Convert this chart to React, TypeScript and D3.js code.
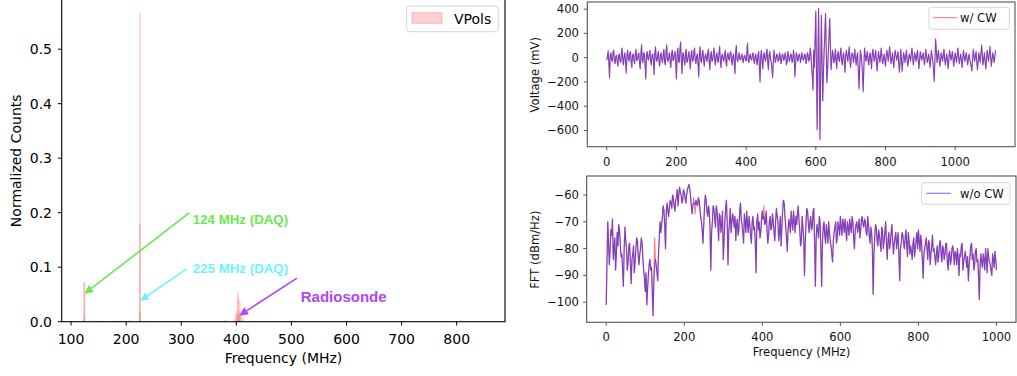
import React from "react";
import * as d3 from "d3";

// ---------------- Left: histogram of CW peak frequencies ----------------
const histBinCenters = [124, 137, 146, 160, 176, 190, 205, 225, 246, 380, 396, 400, 403, 406, 409, 413, 780, 808];
const vpolHistA = [0.072, 0.004, 0.002, 0.002, 0.002, 0.002, 0.003, 0.567, 0.002, 0.003, 0.004, 0.02, 0.055, 0.04, 0.014, 0.005, 0.002, 0.003];
const vpolHistB = [0.072, 0, 0, 0, 0, 0, 0, 0.18, 0, 0, 0, 0.012, 0.045, 0.02, 0.006, 0, 0, 0];
const vpolHistC = [0.012, 0, 0, 0, 0, 0, 0, 0.018, 0, 0, 0, 0.006, 0.016, 0.01, 0, 0, 0, 0];
const histBinWidth = 3;
const histXTicks = [100, 200, 300, 400, 500, 600, 700, 800];
const histYTicks = [0, 0.1, 0.2, 0.3, 0.4, 0.5];

const annotationLabels = ["124 MHz (DAQ)", "225 MHz (DAQ)", "Radiosonde"];
const annotationTips: [number, number][] = [[124, 0.051], [225, 0.038], [405, 0.011]];
const annotationTails: [number, number][] = [[315, 0.2], [310, 0.097], [510, 0.08]];
const annotationTextPos: [number, number][] = [[321, 0.187], [321, 0.098], [517, 0.047]];

// ---------------- Right top: voltage waveform ----------------
// samples at t = 0, 4, 8, ... (main) and t = 2, 6, 10, ... (mid)
const voltageStep = 4;
const voltageWithoutCW = [
  -20, 50, -160, 40, -30, 60, -50, 20, -70, 30, -40, 80, -60, 40, -120, 60, -30, 50, -80, 30,
  -50, 70, -20, 40, -90, 100, -40, 30, -170, 50, -20, 60, -60, 30, -140, 90, -30, 50, -70, 40,
  -40, 70, -60, 100, -30, 40, -80, 60, -20, 50, -170, 80, -40, 125, -130, 40, -60, 70, -30, 50,
  -90, 60, -20, 80, -50, 30, -150, 90, -40, 60, -70, 30, -30, 70, -100, 50, -20, 80, -60, 40,
  -40, 90, -80, 30, -30, 60, -70, 40, -20, 50, -60, 30, -130, 100, -30, 40, -20, 30, -40, 20,
  -30, 115, -40, 30, -20, 40, -50, 30, -60, 50, -195, 60, -90, 40, -30, 70, -100, 50, -30, -160,
  60, -40, 30, -30, 40, -50, 30, -20, 40, -60, 50, -30, 30, -40, 60, -150, 40, -30, 30, -40,
  40, -20, 30, -50, 40, -30, 80, -70, -260, -80, 377, -587, 405, -668, 350, -356, 60, 364, -206, 40,
  323, -100, 60, -40, 70, -90, 50, -30, 80, -60, 40, -120, 60, -30, 90, -80, 40, -40, 70, -60,
  40, -250, 60, -40, -275, 80, -30, 50, -60, 40, -90, 70, -30, 60, -110, 50, -40, 80, -50, 30,
  -70, 60, -30, 90, -50, 40, -80, 60, -20, 50, -115, 70, -110, 40, -40, 60, -70, 30, -30, 80,
  -60, 40, -30, 60, -90, 50, -20, 40, -60, 70, -40, 30, -80, 60, -30, -190, 150, -40, 60, -70,
  40, -30, 70, -60, 30, -90, 60, -20, 50, -70, 40, -40, 80, -50, 30, -80, 60, -30, 40, -60,
  30, -40, -110, 70, -30, 50, -100, 40, -40, 100, -60, 40, -90, 60, -30, 90, -70, 40, -40, 60,
];
const voltageWithoutCWMid = [
  10, -40, 20, -20, 40, -30, 10, -30, 20, -20, 30, -20, 10, -40, 20, -10, 30, -30, 20, -20,
  30, -20, 20, -40, 30, -20, 40, -50, 20, -10, 30, -30, 20, -30, 40, -20, 20, -30, 20, -10,
  20, -30, 40, -20, 10, -30, 30, -20, 30, -40, 20, -30, 60, -20, 30, -20, 30, -40, 20, -20,
  20, -30, 40, -20, 10, -50, 30, -20, 30, -20, 10, -10, 40, -30, 20, -30, 30, -20, 10, -20,
  30, -20, 10, -10, 20, -30, 20, -10, 30, -20, 10, -40, 50, -20, 10, -10, 10, -20, 10, -10,
  40, -20, 10, -10, 20, -20, 10, -30, 20, -60, 10, -30, 10, -10, 30, -30, 20, -10, -90, -40,
  10, -10, 20, -20, 10, -20, 20, -10, 10, -30, 20, -10, 20, -20, 10, -50, 20, -10, 20, -10,
  10, -10, 20, -20, 20, -10, 20, -150, 60, 150, -100, -50, -120, -150, -10, -130, 200, 80, -100, 180,
  100, -20, 20, -20, -10, 20, -10, 30, -20, 10, -40, 20, 10, 30, -20, 10, 20, 10, -20, 10,
  -100, -90, 20, -120, -80, 20, 10, -20, 10, -20, 30, 10, 20, -30, -20, 10, 20, -10, -10, -20,
  10, 20, 30, 10, -10, -20, 10, 20, 10, -40, -20, -20, -30, 10, 10, -10, -20, 10, 30, 10,
  -10, 10, 20, -20, -20, 10, 10, -10, 10, 10, -10, -20, -10, 10, -100, -20, 60, 10, -10, -20,
  10, 20, -10, -10, -30, -10, 20, 10, -10, -10, 0, 20, 10, -10, -20, -10, 10, 10, -10, -10,
  -10, -70, -20, 20, 10, -30, -30, 0, 30, 20, -10, -30, -10, 10, 30, 10, -10, 0, 10,
];
// samples where the trace with CW differs from the filtered one: [time, mV]
const voltageWithCWDiffs: [number, number][] = [
  [4, 62], [8, -172], [56, -132], [100, 110], [112, -180], [172, 110], [200, -182], [212, 135],
  [264, -162], [324, 98], [404, 124], [440, -205], [476, -170], [540, -160], [592, -272], [600, 390],
  [604, -600], [612, -680], [724, -262], [736, -285], [840, -125], [848, -118], [940, -198],
  [944, 158], [1076, 108], [1100, 96],
];
const voltXTicks = [0, 200, 400, 600, 800, 1000];
const voltYTicks = [-600, -400, -200, 0, 200, 400];

// ---------------- Right bottom: spectrum ----------------
// bins at f = 0, 4, 8, ... MHz (main) and f = 2, 6, 10, ... MHz (mid)
const fftStep = 4;
const fftWithoutCW = [
  -101, -70, -86, -73, -69, -80, -88, -74, -71, -78,
  -82, -94, -72, -80, -85, -78, -93, -82, -89, -80,
  -77, -86, -80, -78, -88, -96, -101, -90, -84, -87,
  -105, -87, -86, -92, -76, -74, -68, -66, -80, -63,
  -68, -62, -65, -61, -66, -61, -64, -57, -60, -62,
  -59, -63, -58, -56, -60, -67, -63, -63.5, -63, -61,
  -65, -70, -78, -64, -62, -68, -66, -88, -70, -65,
  -72, -66, -77, -68, -71, -84, -70, -62, -86, -70,
  -74, -67, -72, -77, -69, -73, -63, -71, -78, -70,
  -66, -74, -71, -78, -68, -72, -89, -67, -70, -74,
  -66, -68, -70, -73, -75, -68, -72, -70, -77, -65,
  -70, -74, -79, -66, -63, -72, -81, -69, -74, -70,
  -66, -74, -71, -64, -73, -77, -72, -90, -70, -66,
  -74, -68, -72, -65, -94, -71, -76, -70, -94, -72,
  -75, -71, -78, -74, -79, -85, -74, -70, -76, -72,
  -68, -75, -71, -69, -77, -72, -69, -74, -70, -80,
  -71, -74, -69, -73, -68, -72, -70, -75, -71, -78,
  -74, -97, -76, -72, -79, -75, -81, -73, -77, -70,
  -84, -74, -78, -71, -82, -76, -80, -74, -92, -78,
  -75, -80, -73, -83, -77, -79, -84, -76, -80, -74,
  -73, -81, -78, -91, -80, -76, -84, -78, -82, -75,
  -80, -86, -79, -83, -77, -85, -80, -82, -78, -88,
  -81, -84, -79, -86, -82, -80, -90, -83, -78, -85,
  -81, -87, -92, -83, -78, -82, -86, -80, -84, -99,
  -82, -87, -84, -80, -89, -83, -86, -90, -84, -81, -88,
];
const fftWithoutCWMid = [
  -85, -78, -80, -75, -84, -76, -82, -79, -73, -83,
  -88, -80, -77, -88, -79, -86, -84, -79, -85, -76,
  -83, -82, -76, -84, -91, -89, -95, -86, -88, -96,
  -92, -84, -89, -82, -70, -71, -64, -72, -66, -66,
  -64, -63, -60, -64, -62, -58, -60, -59, -63, -58,
  -61, -60, -57, -58, -64, -64, -63, -62, -64, -62,
  -68, -73, -71, -60, -66, -64, -72, -74, -64, -69,
  -64, -70, -67, -74, -66, -77, -65, -70, -74, -65,
  -70, -69, -68, -71, -75, -66, -69, -74, -67, -74,
  -71, -68, -75, -70, -73, -78, -70, -73, -76, -69,
  -69, -71, -66, -78, -70, -73, -67, -74, -70, -68,
  -77, -68, -72, -62, -68, -76, -73, -71, -66, -73,
  -70, -68, -67, -70, -79, -68, -76, -78, -65, -71,
  -70, -73, -66, -78, -76, -73, -68, -80, -78, -70,
  -78, -74, -70, -77, -82, -77, -72, -78, -70, -75,
  -72, -69, -74, -73, -70, -75, -72, -68, -76, -73,
  -70, -72, -76, -69, -71, -69, -74, -68, -75, -72,
  -80, -82, -71, -77, -73, -78, -72, -80, -74, -78,
  -77, -80, -74, -77, -78, -74, -77, -83, -80, -74,
  -78, -76, -79, -74, -82, -81, -78, -83, -77, -80,
  -77, -75, -84, -82, -78, -80, -77, -86, -79, -81,
  -83, -82, -85, -78, -82, -79, -84, -78, -85, -82,
  -86, -80, -82, -81, -86, -84, -82, -79, -88, -83,
  -84, -83, -86, -79, -84, -88, -81, -85, -90, -86,
  -85, -82, -88, -84, -80, -85, -88, -82, -87, -84,
];
const fftWithCWDiffs: [number, number][] = [[124, -76], [224, -61], [228, -67], [404, -64], [408, -70.5]];
const fftXTicks = [0, 200, 400, 600, 800, 1000];
const fftYTicks = [-100, -90, -80, -70, -60];

const minus = (s: string) => s.replace("-", "\u2212");
const TICK_FONT = "DejaVu Sans, sans-serif";

function interleave(main: number[], mid: number[], step: number): [number, number][] {
  const out: [number, number][] = [];
  main.forEach((v, k) => {
    out.push([k * step, v]);
    if (k < mid.length) out.push([k * step + step / 2, mid[k]]);
  });
  return out;
}

function arrowHead(tail: [number, number], tip: [number, number], len: number, half: number) {
  const dx = tip[0] - tail[0];
  const dy = tip[1] - tail[1];
  const L = Math.hypot(dx, dy);
  const ux = dx / L, uy = dy / L;
  const bx = tip[0] - ux * len, by = tip[1] - uy * len;
  const px = -uy, py = ux;
  return {
    base: [bx, by] as [number, number],
    points: `${tip[0]},${tip[1]} ${bx + px * half},${by + py * half} ${bx - px * half},${by - py * half}`,
  };
}

export default function App() {
  // left
  const xL = d3.scaleLinear().domain([83, 887.7]).range([61.7, 505]);
  const yL = d3.scaleLinear().domain([0, 0.595]).range([321.7, -2.6]);
  const layers = [vpolHistA, vpolHistB, vpolHistC];
  const annColors = ["#6ae84e", "#6ef3ff", "#b146f2"];
  const annSizes = [13.3, 13.3, 15];

  // right top
  const xV = d3.scaleLinear().domain([-55.8, 1171.8]).range([587.3, 1015]);
  const yV = d3.scaleLinear().domain([-734, 459]).range([146.7, 2]);
  const voltBlue = interleave(voltageWithoutCW, voltageWithoutCWMid, voltageStep);
  const voltDiffMap = new Map(voltageWithCWDiffs.map((d) => [d[0], d[1]]));
  const voltRed: [number, number][] = voltBlue.map((d) => [d[0], voltDiffMap.has(d[0]) ? (voltDiffMap.get(d[0]) as number) : d[1]]);
  const lineV = d3.line<[number, number]>().x((d) => xV(d[0])).y((d) => yV(d[1]));

  // right bottom
  const xF = d3.scaleLinear().domain([-50, 1050]).range([586.7, 1016]);
  const yF = d3.scaleLinear().domain([-107.5, -52.9]).range([322.3, 176]);
  const fftBlue = interleave(fftWithoutCW, fftWithoutCWMid, fftStep);
  const fftDiffMap = new Map(fftWithCWDiffs.map((d) => [d[0], d[1]]));
  const fftRed: [number, number][] = fftBlue.map((d) => [d[0], fftDiffMap.has(d[0]) ? (fftDiffMap.get(d[0]) as number) : d[1]]);
  const lineF = d3.line<[number, number]>().x((d) => xF(d[0])).y((d) => yF(d[1]));

  const spineGray = "#555";

  return (
    <svg
      width={1017}
      height={376}
      style={{ position: "fixed", left: 0, top: 0, background: "#fff" }}
      fontFamily={TICK_FONT}
    >
      <rect x={0} y={0} width={1017} height={376} fill="#fff" />

      {/* ================= LEFT ================= */}
      {layers.map((layer, li) => (
        <g key={li}>
          {histBinCenters.map((c, i) =>
            layer[i] > 0 ? (
              <rect
                key={i}
                x={xL(c - histBinWidth / 2)}
                width={xL(c + histBinWidth / 2) - xL(c - histBinWidth / 2)}
                y={yL(layer[i])}
                height={yL(0) - yL(layer[i])}
                fill="#ff3d3d"
                fillOpacity={0.24}
              />
            ) : null
          )}
        </g>
      ))}
      <rect x={61.7} y={yL(0.595)} width={505 - 61.7} height={321.7 - yL(0.595)} fill="none" stroke="#000" strokeWidth={1.1} />
      {histXTicks.map((t) => (
        <g key={t}>
          <line x1={xL(t)} x2={xL(t)} y1={321.7} y2={325.5} stroke="#000" strokeWidth={1} />
          <text x={xL(t)} y={344} fontSize={14} textAnchor="middle" fill="#000">{t}</text>
        </g>
      ))}
      {histYTicks.map((t) => (
        <g key={t}>
          <line x1={57.9} x2={61.7} y1={yL(t)} y2={yL(t)} stroke="#000" strokeWidth={1} />
          <text x={52} y={yL(t)} fontSize={14} textAnchor="end" dominantBaseline="central" fill="#000">{t.toFixed(1)}</text>
        </g>
      ))}
      <text x={283.5} y={362.5} fontSize={14} textAnchor="middle" fill="#000">Frequency (MHz)</text>
      <text transform={`translate(15.5,160.8) rotate(-90)`} fontSize={14} textAnchor="middle" dominantBaseline="central" fill="#000">Normalized Counts</text>

      {annotationLabels.map((lab, i) => {
        const tail: [number, number] = [xL(annotationTails[i][0]), yL(annotationTails[i][1])];
        const tip: [number, number] = [xL(annotationTips[i][0]), yL(annotationTips[i][1])];
        const head = arrowHead(tail, tip, 9, 4.2);
        return (
          <g key={lab}>
            <line x1={tail[0]} y1={tail[1]} x2={head.base[0]} y2={head.base[1]} stroke={annColors[i]} strokeWidth={1.6} />
            <polygon points={head.points} fill={annColors[i]} />
            <text
              x={xL(annotationTextPos[i][0])}
              y={yL(annotationTextPos[i][1])}
              fontFamily="Liberation Sans, Arial, sans-serif"
              fontWeight="bold"
              fontSize={annSizes[i]}
              dominantBaseline="central"
              fill={annColors[i]}
            >
              {lab}
            </text>
          </g>
        );
      })}

      <rect x={406.7} y={6} width={91.6} height={25.7} rx={3} fill="#fff" fillOpacity={0.8} stroke="#d6d6d6" strokeWidth={1} />
      <rect x={412} y={12.7} width={30} height={10.6} fill="#ff3d3d" fillOpacity={0.24} stroke="#ff3d3d" strokeOpacity={0.3} strokeWidth={1} />
      <text x={454} y={23.5} fontSize={14} fill="#000">VPols</text>

      {/* ================= RIGHT TOP ================= */}
      <path d={lineV(voltRed) || ""} fill="none" stroke="#ff0000" strokeOpacity={0.5} strokeWidth={1.1} strokeLinejoin="round" />
      <path d={lineV(voltBlue) || ""} fill="none" stroke="#0000ff" strokeOpacity={0.5} strokeWidth={1.1} strokeLinejoin="round" />
      <rect x={587.3} y={2} width={1015 - 587.3} height={146.7 - 2} fill="none" stroke={spineGray} strokeWidth={1.1} />
      {voltXTicks.map((t) => (
        <g key={t}>
          <line x1={xV(t)} x2={xV(t)} y1={146.7} y2={150.2} stroke={spineGray} strokeWidth={1} />
          <text x={xV(t)} y={165.7} fontSize={11.6} textAnchor="middle" fill="#111">{t}</text>
        </g>
      ))}
      {voltYTicks.map((t) => (
        <g key={t}>
          <line x1={583.8} x2={587.3} y1={yV(t)} y2={yV(t)} stroke={spineGray} strokeWidth={1} />
          <text x={579} y={yV(t)} fontSize={11.6} textAnchor="end" dominantBaseline="central" fill="#111">{minus(String(t))}</text>
        </g>
      ))}
      <text transform={`translate(534.5,74.7) rotate(-90)`} fontSize={11.6} textAnchor="middle" dominantBaseline="central" fill="#111">Voltage (mV)</text>
      <rect x={929} y={7.3} width={80.3} height={22} rx={2.5} fill="#fff" fillOpacity={0.8} stroke="#d6d6d6" strokeWidth={1} />
      <line x1={933.3} x2={956.7} y1={17.6} y2={17.6} stroke="#ff8080" strokeWidth={1.2} />
      <text x={960} y={22} fontSize={11.6} fill="#111">w/ CW</text>

      {/* ================= RIGHT BOTTOM ================= */}
      <path d={lineF(fftRed) || ""} fill="none" stroke="#ff0000" strokeOpacity={0.5} strokeWidth={1.2} strokeLinejoin="round" />
      <path d={lineF(fftBlue) || ""} fill="none" stroke="#0000ff" strokeOpacity={0.5} strokeWidth={1.2} strokeLinejoin="round" />
      <rect x={586.7} y={176} width={1016 - 586.7} height={322.3 - 176} fill="none" stroke={spineGray} strokeWidth={1.1} />
      {fftXTicks.map((t) => (
        <g key={t}>
          <line x1={xF(t)} x2={xF(t)} y1={322.3} y2={325.8} stroke={spineGray} strokeWidth={1} />
          <text x={xF(t)} y={340.7} fontSize={11.6} textAnchor="middle" fill="#111">{t}</text>
        </g>
      ))}
      {fftYTicks.map((t) => (
        <g key={t}>
          <line x1={583.2} x2={586.7} y1={yF(t)} y2={yF(t)} stroke={spineGray} strokeWidth={1} />
          <text x={579} y={yF(t)} fontSize={11.6} textAnchor="end" dominantBaseline="central" fill="#111">{minus(String(t))}</text>
        </g>
      ))}
      <text x={801.5} y={355.5} fontSize={11.6} textAnchor="middle" fill="#111">Frequency (MHz)</text>
      <text transform={`translate(534.7,249.7) rotate(-90)`} fontSize={11.6} textAnchor="middle" dominantBaseline="central" fill="#111">FFT (dBm/Hz)</text>
      <rect x={921.7} y={182.7} width={88.3} height={21.6} rx={2.5} fill="#fff" fillOpacity={0.8} stroke="#d6d6d6" strokeWidth={1} />
      <line x1={926} x2={950.7} y1={193.3} y2={193.3} stroke="#8080ff" strokeWidth={1.2} />
      <text x={960} y={197.5} fontSize={11.6} fill="#111">w/o CW</text>
    </svg>
  );
}
